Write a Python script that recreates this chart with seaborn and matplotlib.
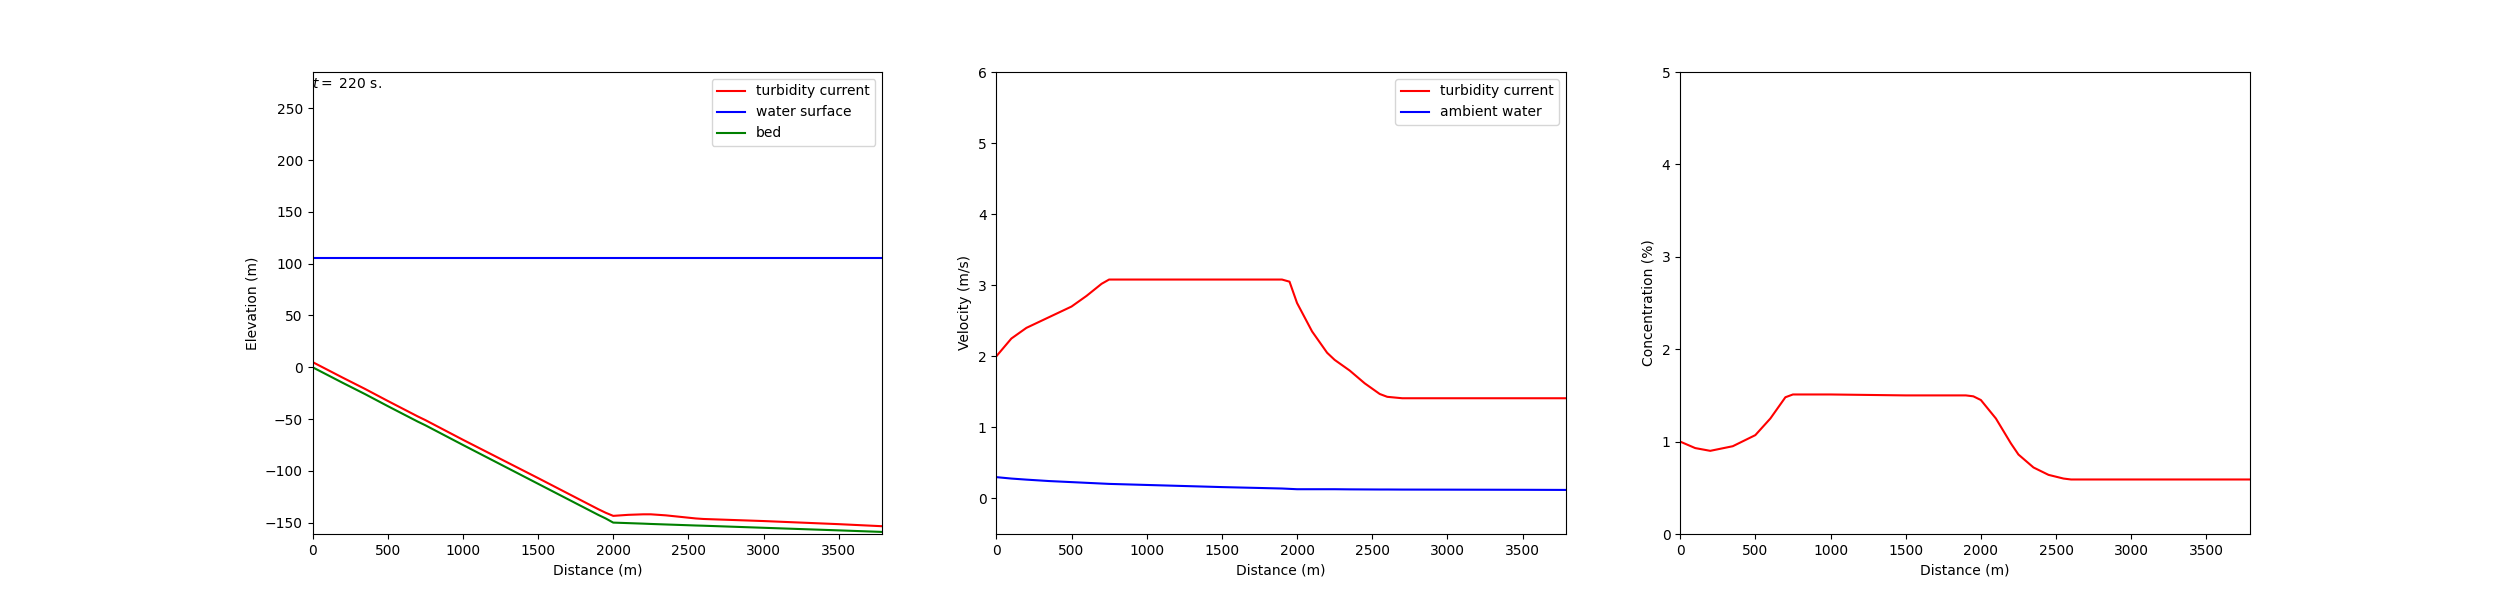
import matplotlib
matplotlib.use('Agg')
import matplotlib.pyplot as plt
import seaborn as sns
import numpy as np

# distance stations (m)
dist = [0, 100, 200, 350, 500, 600, 700, 750, 1000, 1500, 1900, 1950, 2000, 2100, 2200,
        2250, 2350, 2450, 2550, 2600, 2700, 3000, 3500, 3790]

bed = [0, -7.5, -15, -26, -37.5, -45, -52.5, -56, -75, -112.5, -142.5, -146, -150, -150.5, -151,
       -151.3, -151.8, -152.3, -152.8, -153, -153.5, -155, -157.5, -159]
current = [5, -2.5, -10, -21, -32.5, -40, -47.5, -51, -70, -107, -137, -140.5, -143.5, -142.5, -142,
           -142, -143, -144.5, -146, -146.5, -147, -148.5, -151.5, -153.5]
water_surface = [105] * len(dist)

vel_current = [2.0, 2.25, 2.4, 2.55, 2.7, 2.85, 3.02, 3.08, 3.08, 3.08, 3.08, 3.05, 2.75, 2.35, 2.05,
               1.95, 1.8, 1.62, 1.47, 1.43, 1.41, 1.41, 1.41, 1.41]
vel_ambient = [0.3, 0.28, 0.265, 0.245, 0.23, 0.22, 0.21, 0.205, 0.19, 0.16, 0.14, 0.135, 0.13, 0.13, 0.13,
               0.13, 0.128, 0.127, 0.126, 0.126, 0.125, 0.124, 0.122, 0.12]
conc = [1.0, 0.93, 0.9, 0.95, 1.07, 1.25, 1.48, 1.51, 1.51, 1.50, 1.50, 1.49, 1.45, 1.25, 0.98,
        0.86, 0.72, 0.64, 0.6, 0.59, 0.59, 0.59, 0.59, 0.59]

fig, axes = plt.subplots(1, 3, figsize=(25, 6))

ax = axes[0]
sns.lineplot(x=dist, y=current, ax=ax, color='red', label='turbidity current')
sns.lineplot(x=dist, y=water_surface, ax=ax, color='blue', label='water surface')
sns.lineplot(x=dist, y=bed, ax=ax, color='green', label='bed')
ax.set_xlim(0, 3790)
ax.set_ylim(-161, 285)
ax.set_xlabel('Distance (m)')
ax.set_ylabel('Elevation (m)')
ax.text(0, 270, '$t=$ 220 s.')
ax.legend(loc='upper right')

ax = axes[1]
sns.lineplot(x=dist, y=vel_current, ax=ax, color='red', label='turbidity current')
sns.lineplot(x=dist, y=vel_ambient, ax=ax, color='blue', label='ambient water')
ax.set_xlim(0, 3790)
ax.set_ylim(-0.5, 6)
ax.set_xlabel('Distance (m)')
ax.set_ylabel('Velocity (m/s)')
ax.legend(loc='upper right')

ax = axes[2]
sns.lineplot(x=dist, y=conc, ax=ax, color='red')
ax.set_xlim(0, 3790)
ax.set_ylim(0, 5)
ax.set_xlabel('Distance (m)')
ax.set_ylabel('Concentration (%)')

for ax in axes:
    ax.set_xticks(np.arange(0, 3501, 500))

fig.savefig('out.png', dpi=100)
